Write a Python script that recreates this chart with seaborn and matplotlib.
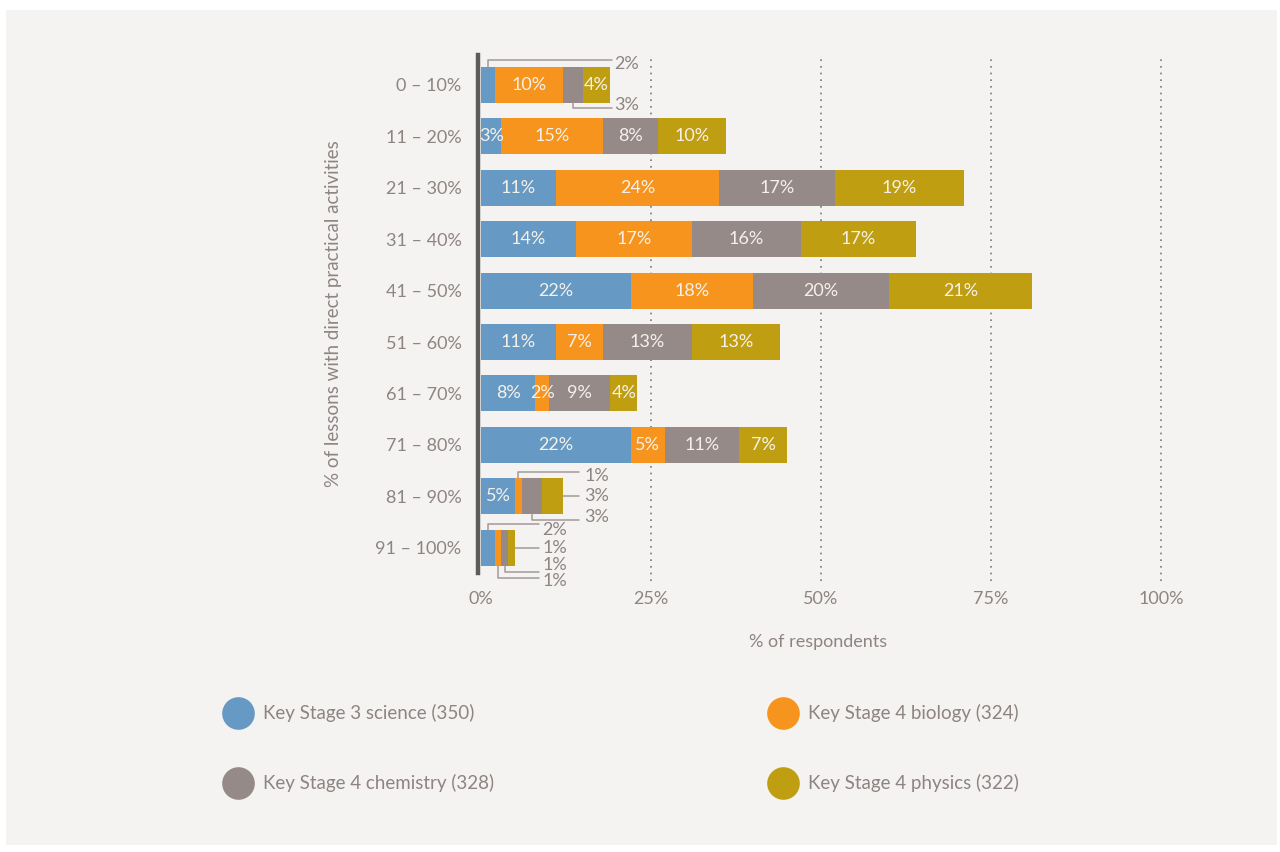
import numpy as np
import pandas as pd
import seaborn as sns
import matplotlib
matplotlib.use("Agg")
import matplotlib.pyplot as plt
from matplotlib.lines import Line2D
from matplotlib.patches import Rectangle

# ---- data -------------------------------------------------------------
categories = ["0 – 10%", "11 – 20%", "21 – 30%", "31 – 40%", "41 – 50%",
              "51 – 60%", "61 – 70%", "71 – 80%", "81 – 90%", "91 – 100%"]
series = ["Key Stage 3 science (350)", "Key Stage 4 biology (324)",
          "Key Stage 4 chemistry (328)", "Key Stage 4 physics (322)"]
ks3_science = [2, 3, 11, 14, 22, 11, 8, 22, 5, 2]
ks4_biology = [10, 15, 24, 17, 18, 7, 2, 5, 1, 1]
ks4_chemistry = [3, 8, 17, 16, 20, 13, 9, 11, 3, 1]
ks4_physics = [4, 10, 19, 17, 21, 13, 4, 7, 3, 1]
x_ticks = [0, 25, 50, 75, 100]

# ---- style ------------------------------------------------------------
colors = ["#6699c3", "#f7941e", "#958a88", "#bf9e12"]
bg = "#f4f3f1"
text_grey = "#8e8482"
inner_text = "#f6f1e8"

sns.set_theme(style="white")
plt.rcParams["font.family"] = ["Lato", "DejaVu Sans"]
plt.rcParams["font.weight"] = "normal"

fig = plt.figure(figsize=(12.8, 8.52), dpi=100, facecolor="white")
fig.add_artist(Rectangle((6 / 1280, 7 / 852), 1271 / 1280, 835 / 852,
                         transform=fig.transFigure, facecolor=bg,
                         edgecolor="none", zorder=-10))

ax = fig.add_axes([481 / 1280, 279 / 852, 680 / 1280, 518 / 852])
ax.set_facecolor("none")

values = np.array([ks3_science, ks4_biology, ks4_chemistry, ks4_physics], dtype=float)
cum = np.cumsum(values, axis=0)
df = pd.DataFrame({"category": categories})
for i in range(len(series)):
    df[f"cum{i}"] = cum[i]

# stacked bars: draw the running totals from the outermost series inwards
for i in reversed(range(len(series))):
    sns.barplot(data=df, x=f"cum{i}", y="category", orient="h", color=colors[i],
                saturation=1, width=0.7, linewidth=0, ax=ax, zorder=3)

ax.set_xlim(0, 100)
ax.set_ylim(9.49, -0.58)
ax.set_xticks(x_ticks)
ax.set_xticklabels([f"{t}%" for t in x_ticks])
ax.tick_params(axis="x", length=0, pad=13, labelsize=13, labelcolor=text_grey)
ax.tick_params(axis="y", length=0, pad=12, labelsize=13, labelcolor=text_grey)

for s in ["top", "right", "bottom"]:
    ax.spines[s].set_visible(False)
ax.spines["left"].set_color("#5e5c5b")
ax.spines["left"].set_linewidth(3.2)
ax.spines["left"].set_position(("outward", 2))

ax.xaxis.grid(False)
ax.yaxis.grid(False)
for t in x_ticks[1:]:
    ax.axvline(t, ymin=-0.015, ymax=1, color="#7d7878", lw=1.2,
               linestyle=(0, (1, 3)), zorder=1, clip_on=False)

ax.set_xlabel("% of respondents", fontsize=13, color=text_grey)
ax.xaxis.set_label_coords(0.496, -0.118)
ax.set_ylabel("% of lessons with direct practical activities", fontsize=13.5,
              color=text_grey)
ax.yaxis.set_label_coords(-0.205, 0.5)

# ---- segment labels ---------------------------------------------------
half = 0.35
line_kw = dict(color="#a39997", lw=1.1, clip_on=False, zorder=4)
out_kw = dict(fontsize=13, color=text_grey, va="center", ha="left", clip_on=False)

# callouts for segments too narrow for an inside label:
# (row, series, side, line y offset, text y offset, line end gap, text gap)
callouts = [
    (0, 0, "up", -0.49, -0.40, 0.2, 0.6),
    (0, 2, "down", 0.45, 0.40, 0.2, 0.6),
    (8, 1, "up", -0.47, -0.39, 2.4, 3.2),
    (8, 3, "right", 0.0, 0.0, 2.4, 3.2),
    (8, 2, "down", 0.45, 0.41, 2.4, 3.2),
    (9, 0, "up", -0.47, -0.35, 3.5, 4.0),
    (9, 3, "right", 0.0, 0.0, 3.5, 4.0),
    (9, 2, "down", 0.47, 0.33, 3.5, 4.0),
    (9, 1, "down", 0.59, 0.64, 3.5, 4.0),
]
called = {(r, s) for r, s, *_ in callouts}

for r in range(len(categories)):
    for s in range(len(series)):
        if (r, s) in called:
            continue
        left = cum[s, r] - values[s, r]
        ax.text(left + values[s, r] / 2, r, f"{int(values[s, r])}%",
                ha="center", va="center", fontsize=13, color=inner_text, zorder=5)

for r, s, side, ly, ty, lgap, tgap in callouts:
    total = cum[-1, r]
    left = cum[s, r] - values[s, r]
    xc = left + values[s, r] / 2
    xend = total + lgap
    label = f"{int(values[s, r])}%"
    if side == "right":
        ax.plot([total, xend], [r, r], **line_kw)
    else:
        ystart = r - half if side == "up" else r + half
        ax.plot([xc, xc, xend], [ystart, r + ly, r + ly], **line_kw)
    ax.text(total + tgap, r + ty, label, **out_kw)

# ---- legend -----------------------------------------------------------
legend_pos = [(238, 713), (783, 713), (238, 783), (783, 783)]
legend_order = [0, 1, 2, 3]
for (px, py), s in zip(legend_pos, legend_order):
    fx, fy = px / 1280, 1 - py / 852
    fig.add_artist(Line2D([fx], [fy], marker="o", markersize=23.5,
                          markerfacecolor=colors[s], markeredgecolor="none",
                          linestyle="none", transform=fig.transFigure))
    fig.text(fx + 25 / 1280, fy, series[s], fontsize=13.5, color=text_grey,
             ha="left", va="center")

fig.savefig("out.png", dpi=100, facecolor="white")
